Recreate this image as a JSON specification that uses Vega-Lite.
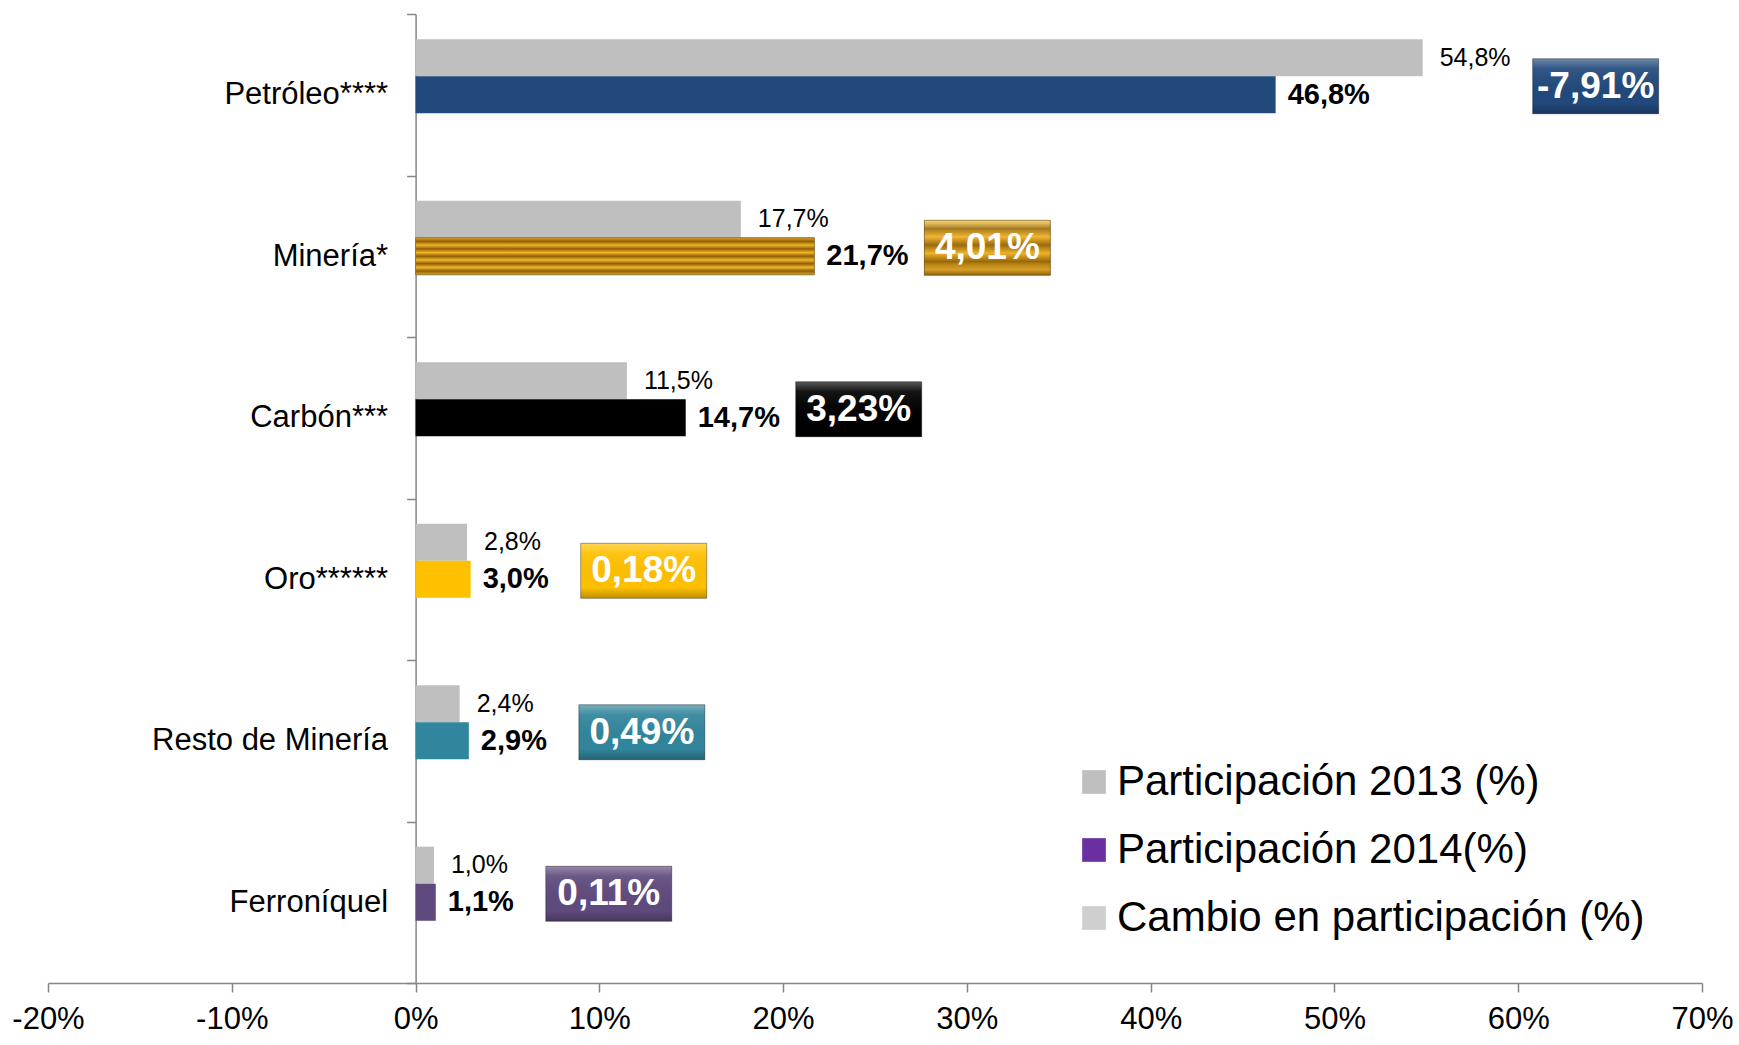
{
  "$schema": "https://vega.github.io/schema/vega-lite/v6.json",
  "width": 1654,
  "height": 969,
  "autosize": {"type": "none"},
  "padding": {"left": 48, "top": 14, "right": 37, "bottom": 62},
  "background": "white",
  "config": {
    "view": {"stroke": null},
    "font": "Liberation Sans",
    "axis": {"grid": false}
  },
  "data": {
    "values": [
      {"cat": "Petróleo****", "v2013": 54.8, "v2014": 46.8, "cambio": -7.91},
      {"cat": "Minería*", "v2013": 17.7, "v2014": 21.7, "cambio": 4.01},
      {"cat": "Carbón***", "v2013": 11.5, "v2014": 14.7, "cambio": 3.23},
      {"cat": "Oro******", "v2013": 2.8, "v2014": 3.0, "cambio": 0.18},
      {"cat": "Resto de Minería", "v2013": 2.4, "v2014": 2.9, "cambio": 0.49},
      {"cat": "Ferroníquel", "v2013": 1.0, "v2014": 1.1, "cambio": 0.11}
    ]
  },
  "layer": [
    {
      "transform": [{"fold": ["v2013", "v2014"], "as": ["serie", "value"]}],
      "mark": {"type": "bar"},
      "encoding": {
        "y": {
          "field": "cat", "type": "nominal",
          "scale": {"domain": ["Petróleo****", "Minería*", "Carbón***", "Oro******", "Resto de Minería", "Ferroníquel"], "paddingInner": 0, "paddingOuter": 0},
          "axis": {"title": null, "offset": -367.6, "tickBand": "extent", "tickSize": 9, "labelFontSize": 31, "labelPadding": 19, "labelColor": "#000000", "labelLimit": 400, "domainColor": "#868686", "tickColor": "#868686", "domainWidth": 1.5, "tickWidth": 1.5}
        },
        "x": {
          "field": "value", "type": "quantitative",
          "scale": {"domain": [-20, 70], "nice": false, "zero": false},
          "axis": {"title": null, "values": [-20, -10, 0, 10, 20, 30, 40, 50, 60, 70], "labelExpr": "datum.value + '%'", "tickSize": 9, "labelFontSize": 31, "labelPadding": 12, "labelColor": "#000000", "labelFlush": false, "labelOverlap": false, "domainColor": "#868686", "tickColor": "#868686", "domainWidth": 1.5, "tickWidth": 1.5}
        },
        "yOffset": {"field": "serie", "type": "nominal", "scale": {"domain": ["v2013", "v2014", "cambio"], "paddingInner": 0, "paddingOuter": 0.68}},
        "fill": {
          "condition": {"test": "datum.serie === 'v2013'", "value": "#BFBFBF"},
          "field": "cat", "type": "nominal",
          "scale": {"domain": ["Petróleo****", "Minería*", "Carbón***", "Oro******", "Resto de Minería", "Ferroníquel"], "range": ["#21497C", "#E09B12", "#000000", "#FFC000", "#31859C", "#5F4A7D"]},
          "legend": null
        }
      }
    },
    {
      "transform": [
        {"filter": "datum.cat === 'Minería*'"},
        {"fold": ["v2013", "v2014"], "as": ["serie", "value"]},
        {"filter": "datum.serie === 'v2014'"}
      ],
      "mark": {
        "type": "bar", "stroke": "#8C7A3A", "strokeWidth": 1,
        "fill": {"gradient": "linear", "x1": 0, "y1": 0, "x2": 0, "y2": 1, "stops": [
          {"offset": 0, "color": "#E6A41F"}, {"offset": 0.1, "color": "#8F5F05"},
          {"offset": 0.2, "color": "#F2B429"}, {"offset": 0.3, "color": "#8F5F05"},
          {"offset": 0.4, "color": "#F2B429"}, {"offset": 0.5, "color": "#8F5F05"},
          {"offset": 0.6, "color": "#F2B429"}, {"offset": 0.7, "color": "#8F5F05"},
          {"offset": 0.8, "color": "#F2B429"}, {"offset": 0.9, "color": "#8F5F05"},
          {"offset": 1, "color": "#E6A41F"}]}
      },
      "encoding": {
        "y": {"field": "cat", "type": "nominal"},
        "x": {"field": "value", "type": "quantitative"},
        "yOffset": {"field": "serie", "type": "nominal"}
      }
    },
    {
      "transform": [
        {"fold": ["v2013", "v2014"], "as": ["serie", "value"]},
        {"filter": "datum.serie === 'v2013'"},
        {"calculate": "replace(format(datum.value, '.1f'), '.', ',') + '%'", "as": "lab"}
      ],
      "mark": {"type": "text", "align": "left", "baseline": "middle", "dx": 17, "fontSize": 25, "color": "#000000"},
      "encoding": {
        "y": {"field": "cat", "type": "nominal"},
        "x": {"field": "value", "type": "quantitative"},
        "yOffset": {"field": "serie", "type": "nominal"},
        "text": {"field": "lab"}
      }
    },
    {
      "transform": [
        {"fold": ["v2013", "v2014"], "as": ["serie", "value"]},
        {"filter": "datum.serie === 'v2014'"},
        {"calculate": "replace(format(datum.value, '.1f'), '.', ',') + '%'", "as": "lab"}
      ],
      "mark": {"type": "text", "align": "left", "baseline": "middle", "dx": 12, "fontSize": 29, "fontWeight": "bold", "color": "#000000"},
      "encoding": {
        "y": {"field": "cat", "type": "nominal"},
        "x": {"field": "value", "type": "quantitative"},
        "yOffset": {"field": "serie", "type": "nominal"},
        "text": {"field": "lab"}
      }
    },
    {
      "transform": [{"calculate": "max(datum.v2013, datum.v2014)", "as": "maxv"}],
      "mark": {"type": "point", "filled": true, "opacity": 1, "size": 4, "shape": "M110,-36L236,-36L236,19L110,19Z", "strokeWidth": 0},
      "encoding": {
        "y": {"field": "cat", "type": "nominal"},
        "x": {"field": "maxv", "type": "quantitative"},
        "fill": {"field": "cat", "type": "nominal", "legend": null}
      }
    },
    {
      "transform": [
        {"filter": "datum.cat === 'Minería*'"},
        {"calculate": "max(datum.v2013, datum.v2014)", "as": "maxv"}
      ],
      "mark": {
        "type": "point", "filled": true, "opacity": 1, "size": 4, "shape": "M110,-36L236,-36L236,19L110,19Z", "strokeWidth": 0,
        "fill": {"gradient": "linear", "x1": 0, "y1": 0, "x2": 0, "y2": 1, "stops": [
          {"offset": 0, "color": "#F5C030"}, {"offset": 0.15, "color": "#9A6A08"},
          {"offset": 0.3, "color": "#F2B429"}, {"offset": 0.45, "color": "#9A6A08"},
          {"offset": 0.6, "color": "#F2B429"}, {"offset": 0.75, "color": "#9A6A08"},
          {"offset": 0.9, "color": "#F2B429"}, {"offset": 1, "color": "#C88A10"}]}
      },
      "encoding": {
        "y": {"field": "cat", "type": "nominal"},
        "x": {"field": "maxv", "type": "quantitative"}
      }
    },
    {
      "transform": [{"calculate": "max(datum.v2013, datum.v2014)", "as": "maxv"}],
      "mark": {
        "type": "point", "filled": true, "opacity": 1, "size": 4, "shape": "M110,-36L236,-36L236,19L110,19Z",
        "stroke": "rgba(0,0,0,0.35)", "strokeWidth": 1,
        "fill": {"gradient": "linear", "x1": 0, "y1": 0, "x2": 0, "y2": 1, "stops": [
          {"offset": 0, "color": "rgba(255,255,255,0.35)"},
          {"offset": 0.18, "color": "rgba(255,255,255,0.08)"},
          {"offset": 0.8, "color": "rgba(0,0,0,0)"},
          {"offset": 1, "color": "rgba(0,0,0,0.25)"}]}
      },
      "encoding": {
        "y": {"field": "cat", "type": "nominal"},
        "x": {"field": "maxv", "type": "quantitative"}
      }
    },
    {
      "transform": [
        {"calculate": "max(datum.v2013, datum.v2014)", "as": "maxv"},
        {"calculate": "(datum.cambio < 0 ? '-' : '') + replace(format(abs(datum.cambio), '.2f'), '.', ',') + '%'", "as": "lab"}
      ],
      "mark": {"type": "text", "align": "center", "baseline": "middle", "dx": 173, "dy": -8, "fontSize": 37, "fontWeight": "bold", "color": "#FFFFFF"},
      "encoding": {
        "y": {"field": "cat", "type": "nominal"},
        "x": {"field": "maxv", "type": "quantitative"},
        "text": {"field": "lab"}
      }
    },
    {
      "data": {"values": [
        {"s": "Participación 2013 (%)"},
        {"s": "Participación 2014(%)"},
        {"s": "Cambio en participación (%)"}
      ]},
      "mark": {"type": "square", "clip": true},
      "encoding": {
        "x": {"datum": -1000, "type": "quantitative"},
        "color": {
          "field": "s", "type": "nominal",
          "scale": {"domain": ["Participación 2013 (%)", "Participación 2014(%)", "Cambio en participación (%)"], "range": ["#BFBFBF", "#6A2FA0", "#CFCFCF"]},
          "legend": {
            "title": null, "orient": "none", "legendX": 1025, "legendY": 747, "padding": 0,
            "labelFontSize": 42, "labelColor": "#000000", "labelLimit": 900, "labelOffset": 2,
            "symbolType": "square", "symbolSize": 560, "symbolStrokeWidth": 0, "symbolOpacity": 1, "rowPadding": 26
          }
        }
      }
    }
  ]
}
